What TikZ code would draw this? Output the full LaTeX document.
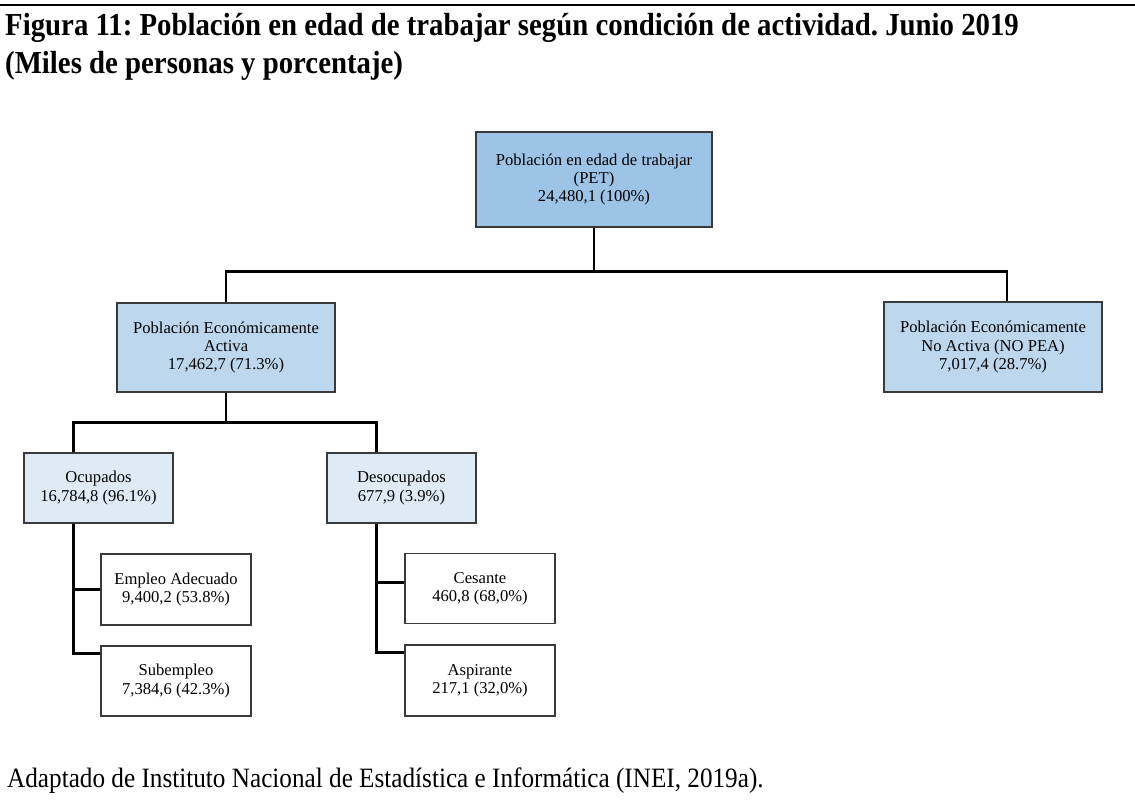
\documentclass[tikz,border=0pt]{standalone}
\usepackage{fontspec}
\setmainfont{Liberation Serif}
\newfontfamily\narrowserif[FakeStretch=0.9]{Liberation Serif}
\usetikzlibrary{calc}
\definecolor{petblue}{HTML}{9DC3E6}
\definecolor{peablue}{HTML}{BDD7EE}
\definecolor{ocublue}{HTML}{DEEBF7}
\definecolor{edge}{HTML}{3A3A3A}
\tikzset{
  box/.style={draw=edge, line width=1.3pt, inner sep=0pt, align=center,
    font=\fontsize{16.6}{18.2}\selectfont},
  conn/.style={draw=black, line width=2.6pt, line join=miter},
  heading/.style={anchor=base west, inner sep=0pt,
    font=\narrowserif\fontsize{32}{36}\selectfont\bfseries},
  note/.style={anchor=base west, inner sep=0pt,
    font=\narrowserif\fontsize{28}{32}\selectfont},
}
\frenchspacing
\begin{document}
\begin{tikzpicture}[x=1pt,y=-1pt]
\useasboundingbox (0,0) rectangle (1135,810);
% top rule
\draw[line width=2.4pt] (0,5) -- (1135,5);
% headings
\node[heading] (t1) at (5,36) {Figura 11: Población en edad de trabajar según condición de actividad. Junio 2019};
\node[heading] (t2) at (5,74) {(Miles de personas y porcentaje)};
% level 1
\node[box, fill=petblue, minimum width=236pt, minimum height=95pt] (pet) at (594,179.5)
  {Población en edad de trabajar\\(PET)\\24,480,1 (100\%)};
% level 2
\node[box, fill=peablue, minimum width=218pt, minimum height=89pt] (pea) at (226,347.5)
  {Población Económicamente\\Activa\\17,462,7 (71.3\%)};
\node[box, fill=peablue, minimum width=218pt, minimum height=90pt] (nopea) at (993,347)
  {Población Económicamente\\No Activa (NO PEA)\\7,017,4 (28.7\%)};
% level 3
\node[box, fill=ocublue, minimum width=149pt, minimum height=70pt] (ocu) at (98.5,488)
  {Ocupados\\16,784,8 (96.1\%)};
\node[box, fill=ocublue, minimum width=149pt, minimum height=70pt] (deso) at (401.5,488)
  {Desocupados\\677,9 (3.9\%)};
% level 4
\node[box, minimum width=150pt, minimum height=71pt] (emp) at (176,589.5)
  {Empleo Adecuado\\9,400,2 (53.8\%)};
\node[box, minimum width=150pt, minimum height=70pt] (sub) at (176,681)
  {Subempleo\\7,384,6 (42.3\%)};
\node[box, minimum width=150pt, minimum height=70pt] (ces) at (480,588.5)
  {Cesante\\460,8 (68,0\%)};
\node[box, minimum width=150pt, minimum height=71pt] (asp) at (480,680.5)
  {Aspirante\\217,1 (32,0\%)};
% source note
\node[note] (src) at (7,787) {Adaptado de Instituto Nacional de Estadística e Informática (INEI, 2019a).};
% connectors: PET to its two parts
\coordinate (j1) at ($(pet.south)+(0,44)$);
\coordinate (np) at ($(nopea.north)+(14,0)$);
\draw[conn] (pet.south) -- (j1);
\draw[conn] (pea.north) |- (np |- j1) -- (np);
% connectors: PEA to its two parts
\coordinate (j2) at ($(pea.south)+(0,30)$);
\coordinate (oc) at ($(ocu.north)+(-25,0)$);
\coordinate (de) at ($(deso.north)+(-25,0)$);
\draw[conn] (pea.south) -- (j2);
\draw[conn] (oc) |- (de |- j2) -- (de);
% connectors: Ocupados to its two parts
\coordinate (ob) at ($(ocu.south)+(-25,0)$);
\coordinate (sb) at ($(sub.north west)+(0,8)$);
\draw[conn] (ob) |- (sb);
\draw[conn] (ob |- emp.west) -- (emp.west);
% connectors: Desocupados to its two parts
\coordinate (db) at ($(deso.south)+(-25,0)$);
\coordinate (ab) at ($(asp.north west)+(0,8)$);
\draw[conn] (db) |- (ab);
\draw[conn] ($(db |- ces.west)+(0,-6)$) -- ($(ces.west)+(0,-6)$);
\end{tikzpicture}
\end{document}
